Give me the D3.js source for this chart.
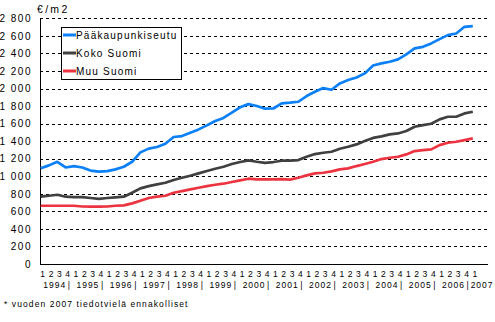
<!DOCTYPE html>
<html>
<head>
<meta charset="utf-8">
<script src="https://cdn.jsdelivr.net/npm/d3@7"></script>
<style>
  html, body { margin: 0; padding: 0; background: #fff; }
  svg { display: block; font-family: "Liberation Sans", Arial, sans-serif; }
</style>
</head>
<body>
<svg id="chart" width="495" height="322"></svg>
<script>
// Average price per square metre, quarterly 1994 Q1 – 2007 Q1
const years = ["1994","1995","1996","1997","1998","1999","2000","2001","2002","2003","2004","2005","2006","2007"];
const quarterNames = ["1","2","3","4"];
const seriesNames = ["Pääkaupunkiseutu", "Koko Suomi", "Muu Suomi"];
const seriesColors = ["#0b80f7", "#404040", "#ec3441"];

const capitalRegion = [
  1090, 1124, 1165, 1100, 1116, 1100, 1065, 1052, 1058, 1078, 1108, 1165, 1272,
  1315, 1333, 1370, 1447, 1458, 1496, 1534, 1580, 1630, 1665, 1725, 1785, 1822,
  1800, 1770, 1772, 1830, 1838, 1849, 1914, 1963, 2005, 1986, 2058, 2096, 2126,
  2172, 2262, 2286, 2305, 2332, 2388, 2457, 2475, 2514, 2563, 2608, 2627, 2703, 2711
];
const wholeCountry = [
  767, 778, 789, 767, 763, 763, 752, 742, 752, 759, 767, 812, 862,
  888, 907, 926, 957, 983, 1006, 1033, 1059, 1086, 1108, 1139, 1162, 1181,
  1165, 1152, 1162, 1177, 1177, 1184, 1222, 1253, 1268, 1279, 1313, 1336, 1363,
  1401, 1437, 1454, 1477, 1488, 1515, 1564, 1583, 1598, 1648, 1678, 1678, 1716, 1735
];
const restOfCountry = [
  664, 664, 664, 664, 664, 655, 653, 653, 655, 664, 668, 691, 721,
  752, 767, 778, 812, 831, 850, 869, 888, 903, 915, 934, 953, 972,
  964, 964, 964, 968, 962, 983, 1010, 1033, 1040, 1055, 1078, 1090, 1116,
  1139, 1165, 1196, 1211, 1222, 1249, 1287, 1298, 1306, 1355, 1382, 1393, 1412, 1431
];
const yTicks = [0, 200, 400, 600, 800, 1000, 1200, 1400, 1600, 1800, 2000, 2200, 2400, 2600, 2800];
const unitLabel = "€/m2";
const footnote = "* vuoden 2007 tiedotvielä ennakolliset";

const seriesValues = [capitalRegion, wholeCountry, restOfCountry];

// Quarter periods, as many as there are observations
const periods = [];
years.forEach(y => quarterNames.forEach(q => periods.push({ year: y, q })));
periods.length = capitalRegion.length;

const svg = d3.select("#chart");
const plotLeft = 40, plotRight = 488, plotBottom = 264, plotTop = 18.3;

const x = d3.scaleLinear().domain([0, periods.length - 1]).range([40.7, 472.8]);
const y = d3.scaleLinear().domain([0, 2800]).range([plotBottom, plotTop]);

const fmt = d3.formatLocale({ decimal: ",", thousands: " ", grouping: [3], currency: ["", "€"] }).format(",");

// Dashed horizontal grid
const grid = svg.append("g")
  .attr("transform", `translate(${plotLeft},0)`)
  .call(d3.axisLeft(y).tickValues(yTicks.filter(v => v > 0)).tickSize(-(plotRight - plotLeft)).tickFormat(""));
grid.select(".domain").remove();
grid.selectAll(".tick line")
  .attr("stroke", "#000")
  .attr("stroke-dasharray", "3,3")
  .attr("shape-rendering", "crispEdges");

// Y-axis labels
const yAxis = svg.append("g")
  .attr("transform", `translate(${plotLeft},0)`)
  .call(d3.axisLeft(y).tickValues(yTicks).tickSize(0).tickPadding(8).tickFormat(fmt));
yAxis.select(".domain").remove();
yAxis.selectAll("text")
  .attr("font-family", "Liberation Sans, Arial, sans-serif")
  .attr("font-size", 10)
  .attr("letter-spacing", 1.5)
  .attr("fill", "#000");

// Axis lines
svg.append("line")
  .attr("x1", plotLeft).attr("x2", plotLeft)
  .attr("y1", y(2800)).attr("y2", plotBottom)
  .attr("stroke", "#000").attr("shape-rendering", "crispEdges");
svg.append("line")
  .attr("x1", plotLeft).attr("x2", plotRight)
  .attr("y1", plotBottom).attr("y2", plotBottom)
  .attr("stroke", "#000").attr("shape-rendering", "crispEdges");

// Series lines
const line = d3.line().x((d, i) => x(i)).y(d => y(d));
seriesValues.forEach((vals, k) => {
  svg.append("path")
    .datum(vals)
    .attr("fill", "none")
    .attr("stroke", seriesColors[k])
    .attr("stroke-width", 2.7)
    .attr("stroke-linejoin", "round")
    .attr("d", line);
});

// Quarter numbers
const xAxis = svg.append("g")
  .attr("transform", `translate(1.5,${plotBottom})`)
  .call(d3.axisBottom(x).tickValues(d3.range(periods.length)).tickSize(0).tickPadding(7)
    .tickFormat(i => periods[i].q));
xAxis.select(".domain").remove();
xAxis.selectAll("text")
  .attr("font-family", "Liberation Sans, Arial, sans-serif")
  .attr("font-size", 8.5)
  .attr("fill", "#000");

// Year labels with separators
const yearGroups = d3.groups(periods.map((p, i) => ({ ...p, i })), d => d.year);
const yearRow = svg.append("g")
  .attr("font-size", 8.5)
  .attr("letter-spacing", 1)
  .attr("fill", "#000");
yearGroups.forEach(([yr, items], g) => {
  const first = items[0].i, last = items[items.length - 1].i;
  if (g > 0) {
    yearRow.append("text")
      .attr("x", x(first - 0.5) - 0.5)
      .attr("y", 287.5)
      .attr("text-anchor", "middle")
      .text("|");
  }
  if (items.length === quarterNames.length) {
    yearRow.append("text")
      .attr("x", (x(first) + x(last)) / 2 + 1.5)
      .attr("y", 287.5)
      .attr("text-anchor", "middle")
      .text(yr);
  } else {
    yearRow.append("text")
      .attr("x", x(first - 0.5) + 2)
      .attr("y", 287.5)
      .attr("text-anchor", "start")
      .text(yr);
  }
});

// Unit label
svg.append("text")
  .attr("x", 37).attr("y", 13)
  .attr("font-size", 10.5)
  .attr("letter-spacing", 2.3)
  .text(unitLabel);

// Legend
const legend = svg.append("g");
legend.append("rect")
  .attr("x", 61.5).attr("y", 27.5)
  .attr("width", 120).attr("height", 51.5)
  .attr("fill", "#fff").attr("stroke", "#000")
  .attr("shape-rendering", "crispEdges");
seriesNames.forEach((name, k) => {
  const cy = 35 + k * 18;
  legend.append("line")
    .attr("x1", 63).attr("x2", 76)
    .attr("y1", cy).attr("y2", cy)
    .attr("stroke", seriesColors[k]).attr("stroke-width", 3);
  legend.append("text")
    .attr("x", 76).attr("y", cy + 3.6)
    .attr("font-size", 10)
    .attr("letter-spacing", 1.2)
    .text(name);
});

// Footnote
svg.append("text")
  .attr("x", 4).attr("y", 306.5)
  .attr("font-size", 8.5)
  .attr("letter-spacing", 1.1)
  .text(footnote);
</script>
</body>
</html>
